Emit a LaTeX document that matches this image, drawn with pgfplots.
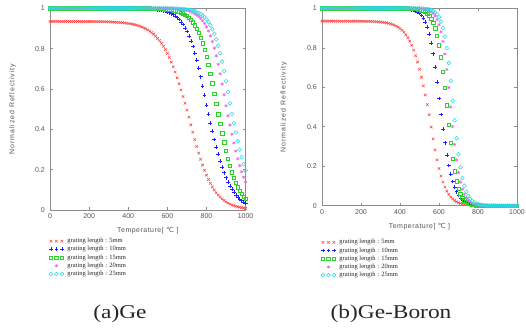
\documentclass[border=0pt]{standalone}
\usepackage{pgfplots}
\pgfplotsset{compat=1.18}
\usepackage{pgfplotstable}
\usepackage{fontspec}
\setmainfont{Liberation Serif}
\newfontfamily\tickfont{Liberation Sans}
\newfontfamily\ylabfont[LetterSpace=13]{Liberation Sans}
\newfontfamily\xlabfont[LetterSpace=7]{Liberation Sans}
\newfontfamily\symfont{DejaVu Sans}
\newfontfamily\legfont{Liberation Serif}
\newfontfamily\capfont[FakeStretch=1.2]{Liberation Serif}
\definecolor{cR}{RGB}{255,70,70}
\definecolor{cB}{RGB}{30,30,255}
\definecolor{cG}{RGB}{40,210,40}
\definecolor{cM}{RGB}{235,100,235}
\definecolor{cC}{RGB}{40,220,230}
\definecolor{cFrame}{RGB}{140,140,140}
\definecolor{cTick}{RGB}{85,85,85}

\pgfplotstableread{
T a b c d e
0 0.9350 1 1 1 1
10 0.9350 1 1 1 1
20 0.9350 1 1 1 1
30 0.9350 1 1 1 1
40 0.9350 1 1 1 1
50 0.9349 1 1 1 1
60 0.9349 1 1 1 1
70 0.9349 1 1 1 1
80 0.9349 1 1 1 1
90 0.9349 1 1 1 1
100 0.9349 1 1 1 1
110 0.9349 1 1 1 1
120 0.9348 1 1 1 1
130 0.9348 1 1 1 1
140 0.9348 1 1 1 1
150 0.9347 1 1 1 1
160 0.9347 1 1 1 1
170 0.9347 1 1 1 1
180 0.9346 1 1 1 1
190 0.9345 1 1 1 1
200 0.9345 1 1 1 1
210 0.9344 1 1 1 1
220 0.9343 1 1 1 1
230 0.9342 1 1 1 1
240 0.9340 1 1 1 1
250 0.9339 1 1 1 1
260 0.9337 1 1 1 1
270 0.9335 1 1 1 1
280 0.9333 1 1 1 1
290 0.9330 1 1 1 1
300 0.9327 1 1 1 1
310 0.9323 1 1 1 1
320 0.9319 1 1 1 1
330 0.9314 1 1 1 1
340 0.9308 1 1 1 1
350 0.9302 1 1 1 1
360 0.9294 1 1 1 1
370 0.9286 1 1 1 1
380 0.9275 1 1 1 1
390 0.9264 1 1 1 1
400 0.9250 1 1 1 1
410 0.9234 0.9996 1 1 1
420 0.9217 0.9995 1 1 1
430 0.9196 0.9993 1 1 1
440 0.9172 0.9992 1 1 1
450 0.9143 0.9990 1 1 1
460 0.9113 0.9988 0.9997 1 1
470 0.9076 0.9986 0.9997 1 1
480 0.9033 0.9983 0.9996 1 1
490 0.8987 0.9979 0.9995 1 1
500 0.8931 0.9974 0.9994 1 1
510 0.8867 0.9969 0.9992 1 1
520 0.8793 0.9962 0.9991 1 1
530 0.8715 0.9954 0.9989 1 1
540 0.8621 0.9944 0.9986 1 1
550 0.8513 0.9932 0.9983 1 1
560 0.8400 0.9917 0.9979 1 1
570 0.8265 0.9899 0.9974 0.9994 1
580 0.8112 0.9878 0.9968 0.9992 1
590 0.7954 0.9852 0.9960 0.9990 1
600 0.7766 0.9820 0.9951 0.9988 0.9994
610 0.7559 0.9782 0.9940 0.9985 0.9992
620 0.7332 0.9736 0.9926 0.9981 0.9990
630 0.7102 0.9681 0.9909 0.9977 0.9988
640 0.6836 0.9614 0.9888 0.9971 0.9985
650 0.6556 0.9535 0.9862 0.9964 0.9981
660 0.6260 0.9440 0.9831 0.9955 0.9976
670 0.5948 0.9326 0.9792 0.9944 0.9970
680 0.5625 0.9192 0.9746 0.9930 0.9962
690 0.5292 0.9033 0.9689 0.9913 0.9952
700 0.4950 0.8848 0.9619 0.9891 0.9940
710 0.4600 0.8633 0.9535 0.9865 0.9925
720 0.4224 0.8385 0.9433 0.9832 0.9906
730 0.3854 0.8102 0.9311 0.9790 0.9882
740 0.3495 0.7781 0.9165 0.9740 0.9853
750 0.3149 0.7425 0.8991 0.9677 0.9816
760 0.2822 0.7033 0.8786 0.9600 0.9770
770 0.2515 0.6608 0.8546 0.9505 0.9713
780 0.2229 0.6156 0.8267 0.9389 0.9643
790 0.1967 0.5683 0.7948 0.9249 0.9556
800 0.1728 0.5195 0.7588 0.9079 0.9448
810 0.1512 0.4742 0.7186 0.8876 0.9317
820 0.1319 0.4315 0.6746 0.8634 0.9158
830 0.1147 0.3898 0.6274 0.8351 0.8965
840 0.0994 0.3496 0.5775 0.8022 0.8735
850 0.0859 0.3115 0.5260 0.7646 0.8462
860 0.0742 0.2758 0.4755 0.7223 0.8141
870 0.0639 0.2427 0.4270 0.6755 0.7773
880 0.0549 0.2124 0.3799 0.6250 0.7355
890 0.0472 0.1850 0.3348 0.5717 0.6889
900 0.0404 0.1604 0.2927 0.5167 0.6383
910 0.0346 0.1385 0.2538 0.4670 0.5844
920 0.0296 0.1192 0.2185 0.4205 0.5284
930 0.0253 0.1022 0.1868 0.3753 0.4764
940 0.0216 0.0875 0.1589 0.3322 0.4297
950 0.0185 0.0747 0.1344 0.2918 0.3842
960 0.0158 0.0636 0.1132 0.2544 0.3406
970 0.0135 0.0541 0.0949 0.2203 0.2996
980 0.0115 0.0459 0.0794 0.1896 0.2616
990 0.0098 0.0389 0.0662 0.1623 0.2268
1000 0.0083 0.0330 0.0550 0.1382 0.1954
}\tabGe

\pgfplotstableread{
T a b c d e
0 0.9350 1 1 1 1
10 0.9350 1 1 1 1
20 0.9350 1 1 1 1
30 0.9350 1 1 1 1
40 0.9350 1 1 1 1
50 0.9350 1 1 1 1
60 0.9350 1 1 1 1
70 0.9350 1 1 1 1
80 0.9350 1 1 1 1
90 0.9349 1 1 1 1
100 0.9349 1 1 1 1
110 0.9349 1 1 1 1
120 0.9349 1 1 1 1
130 0.9349 1 1 1 1
140 0.9348 1 1 1 1
150 0.9348 1 1 1 1
160 0.9348 1 1 1 1
170 0.9347 1 1 1 1
180 0.9346 1 1 1 1
190 0.9346 1 1 1 1
200 0.9344 1 1 1 1
210 0.9343 1 1 1 1
220 0.9342 1 1 1 1
230 0.9339 1 1 1 1
240 0.9337 1 1 1 1
250 0.9334 1 1 1 1
260 0.9330 1 1 1 1
270 0.9325 1 1 1 1
280 0.9320 1 1 1 1
290 0.9312 1 1 1 1
300 0.9304 1 1 1 1
310 0.9292 1 1 1 1
320 0.9279 1 1 1 1
330 0.9262 1 1 1 1
340 0.9242 1 1 1 1
350 0.9216 1 1 1 1
360 0.9185 1 1 1 1
370 0.9147 1 1 1 1
380 0.9100 0.9996 1 1 1
390 0.9043 0.9994 1 1 1
400 0.8973 0.9992 1 1 1
410 0.8888 0.9988 1 1 1
420 0.8786 0.9983 1 1 1
430 0.8661 0.9976 0.9995 1 1
440 0.8513 0.9966 0.9992 1 1
450 0.8336 0.9953 0.9989 1 1
460 0.8127 0.9933 0.9984 1 1
470 0.7882 0.9906 0.9978 1 1
480 0.7599 0.9867 0.9968 0.9993 1
490 0.7276 0.9814 0.9955 0.9989 1
500 0.6914 0.9739 0.9935 0.9983 0.9993
510 0.6511 0.9636 0.9908 0.9975 0.9989
520 0.6073 0.9494 0.9869 0.9963 0.9983
530 0.5607 0.9300 0.9814 0.9945 0.9974
540 0.5120 0.9038 0.9736 0.9918 0.9961
550 0.4612 0.8696 0.9627 0.9879 0.9941
560 0.3985 0.8252 0.9475 0.9820 0.9911
570 0.3383 0.7698 0.9266 0.9734 0.9865
580 0.2824 0.7031 0.8983 0.9608 0.9797
590 0.2321 0.6265 0.8607 0.9427 0.9695
600 0.1882 0.5429 0.8122 0.9168 0.9544
610 0.1508 0.4622 0.7516 0.8808 0.9325
620 0.1197 0.3883 0.6792 0.8320 0.9010
630 0.0942 0.3192 0.5970 0.7685 0.8571
640 0.0736 0.2572 0.5089 0.6900 0.7982
650 0.0573 0.2037 0.4110 0.5987 0.7228
660 0.0443 0.1589 0.3186 0.5000 0.6322
670 0.0342 0.1224 0.2387 0.4013 0.5312
680 0.0263 0.0934 0.1736 0.3100 0.4331
690 0.0202 0.0707 0.1235 0.2315 0.3421
700 0.0155 0.0532 0.0863 0.1680 0.2614
710 0.0119 0.0399 0.0595 0.1192 0.1942
720 0.0091 0.0297 0.0407 0.0832 0.1409
730 0.0070 0.0221 0.0277 0.0573 0.1004
740 0.0053 0.0164 0.0187 0.0392 0.0706
750 0.0041 0.0122 0.0126 0.0266 0.0492
760 0.0031 0.0090 0.0085 0.0180 0.0340
770 0.0024 0.0067 0.0057 0.0121 0.0234
780 0.0018 0.0050 0.0038 0.0082 0.0161
790 0.0014 0.0037 0.0026 0.0055 0.0110
800 0.0011 0.0027 0.0017 0.0037 0.0075
810 0.0008 0.0020 0.0012 0.0025 0.0051
820 0.0006 0.0015 0.0008 0.0017 0.0035
830 0.0005 0.0011 0.0005 0.0011 0.0024
840 0.0004 0.0008 0.0003 0.0007 0.0016
850 0.0003 0.0006 0.0002 0.0005 0.0011
860 0.0002 0.0004 0.0001 0.0003 0.0007
870 0.0002 0.0003 0.0001 0.0002 0.0005
880 0.0001 0.0002 0.0001 0.0001 0.0003
890 0.0001 0.0002 0 0.0001 0.0002
900 0.0001 0.0001 0 0.0001 0.0001
910 0 0.0001 0 0 0.0001
920 0 0.0001 0 0 0.0001
930 0 0 0 0 0
940 0 0 0 0 0
950 0 0 0 0 0
960 0 0 0 0 0
970 0 0 0 0 0
980 0 0 0 0 0
990 0 0 0 0 0
1000 0 0 0 0 0
}\tabGB

\pgfplotsset{
  threemarks/.style={legend image code/.code={%
    \pgfpathrectangle{\pgfpoint{-1.8pt}{-1.8pt}}{\pgfpoint{14.6pt}{3.6pt}}\pgfusepath{}%
    \draw[##1] plot coordinates {(0pt,0pt) (5.5pt,0pt) (11pt,0pt)};}},
  onemark/.style={legend image code/.code={%
    \pgfpathrectangle{\pgfpoint{-1.8pt}{-1.8pt}}{\pgfpoint{14.6pt}{3.6pt}}\pgfusepath{}%
    \draw[##1] plot coordinates {(5.5pt,0pt)};}},
  s5/.style={only marks, color=cR, mark=x, mark size=1.8pt, mark options={line width=0.55pt}, threemarks},
  s10/.style={only marks, color=cB, mark=+, mark size=1.9pt, mark options={line width=0.55pt}, threemarks},
  s15/.style={only marks, color=cG, mark=square, mark size=1.7pt, mark options={line width=0.55pt}, threemarks},
  s20/.style={only marks, color=cM, mark=asterisk, mark size=1.7pt, mark options={line width=0.55pt}, onemark},
  s25/.style={only marks, color=cC, mark=o, mark size=1.9pt, mark options={line width=0.55pt}, threemarks},
  refl/.style={
    scale only axis,
    xmin=0, xmax=1000, ymin=0, ymax=1,
    xtick={0,200,400,600,800,1000},
    ytick={0,0.2,0.4,0.6,0.8,1},
    tick align=inside,
    major tick length=3pt,
    axis line style={draw=cFrame, line width=0.5pt},
    tick style={draw=cFrame, line width=0.5pt},
    /pgf/number format/assume math mode=true,
    /pgf/number format/1000 sep={},
    tick label style={font=\tickfont\fontsize{7}{8}\selectfont, text=cTick, inner sep=0pt},
    xticklabel style={anchor=north, yshift=-3.8pt},
    yticklabel style={anchor=east, xshift=-5pt},
    xlabel={Temperature[ {\symfont ℃} ]},
    ylabel={Normalized Reflectivity},
    xlabel style={font=\xlabfont\fontsize{7}{8}\selectfont, text=cTick, anchor=center},
    ylabel style={font=\ylabfont\fontsize{7}{8}\selectfont, text=cTick, anchor=center},
    legend cell align=left,
    legend style={anchor=north west, draw=none, fill=none, inner sep=0pt, outer sep=0pt,
      font=\legfont\fontsize{6.5}{7}\selectfont, text=black!85,
      nodes={inner sep=0.5pt}, row sep=1.2pt,
      /tikz/every odd column/.append style={column sep=3.1pt}},
  }
}

\begin{document}
\begin{tikzpicture}
\begin{axis}[refl, at={(50pt,119pt)}, anchor=south west, width=195.6pt, height=201.7pt,
  xlabel style={at={(axis description cs:0.5,-0.1)}},
  ylabel style={at={(axis description cs:-0.192,0.5)}},
  legend style={at={(-0.005,-0.137)}}]
\addplot[s5] table[x=T, y=a] {\tabGe};
\addlegendentry{grating length : 5mm}
\addplot[s10] table[x=T, y=b] {\tabGe};
\addlegendentry{grating length : 10mm}
\addplot[s15] table[x=T, y=c] {\tabGe};
\addlegendentry{grating length : 15mm}
\addplot[s20] table[x=T, y=d] {\tabGe};
\addlegendentry{grating length : 20mm}
\addplot[s25] table[x=T, y=e] {\tabGe};
\addlegendentry{grating length : 25mm}
\end{axis}

\begin{axis}[refl, at={(322pt,123.3pt)}, anchor=south west, width=195pt, height=197.4pt,
  xlabel style={at={(axis description cs:0.5,-0.107)}},
  ylabel style={at={(axis description cs:-0.196,0.5)}},
  legend style={at={(-0.005,-0.168)}}]
\addplot[s5] table[x=T, y=a] {\tabGB};
\addlegendentry{grating length : 5mm}
\addplot[s10] table[x=T, y=b] {\tabGB};
\addlegendentry{grating length : 10mm}
\addplot[s15] table[x=T, y=c] {\tabGB};
\addlegendentry{grating length : 15mm}
\addplot[s20] table[x=T, y=d] {\tabGB};
\addlegendentry{grating length : 20mm}
\addplot[s25] table[x=T, y=e] {\tabGB};
\addlegendentry{grating length : 25mm}
\end{axis}

\node[text=black!85, inner sep=0pt] at (120pt,15pt) {\capfont\fontsize{19.5}{22}\selectfont (a)Ge};
\node[text=black!85, inner sep=0pt] at (391pt,15pt) {\capfont\fontsize{19.5}{22}\selectfont (b)Ge-Boron};

\pgfresetboundingbox
\useasboundingbox (0,0) rectangle (526pt,329pt);
\end{tikzpicture}
\end{document}
